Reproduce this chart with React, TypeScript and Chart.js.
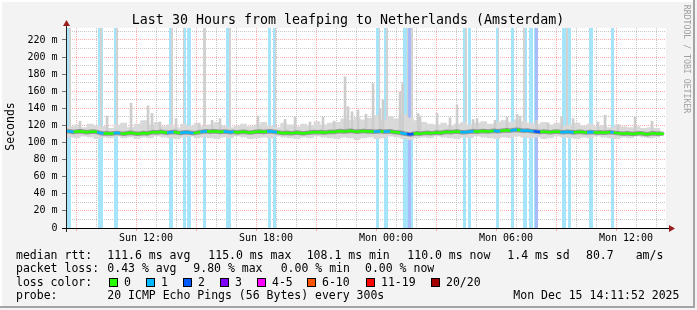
import React, { useEffect, useRef } from 'react';
import { Chart, registerables } from 'chart.js';

Chart.register(...registerables);

// ---- time axis (hours since Sun 00:00) ----
const startHour = 8.198; // Sun 08:11:52
const endHour = 38.198; // Mon 14:11:52
const xTickHours = [12, 18, 24, 30, 36];
const xTickLabels = ['Sun 12:00', 'Sun 18:00', 'Mon 00:00', 'Mon 06:00', 'Mon 12:00'];
const yMax = 234;

// ---- median RTT (ms), 10-minute steps from 08:15 ----
const medianT0 = 8.25;
const medianStep = 1 / 6;
const medianRtt = [
  113.5, 113.0, 112.4, 112.8, 113.2, 112.6, 112.0, 112.5, 112.9, 112.2,
  111.2, 110.6, 110.9, 110.4, 110.8, 111.3,
  110.7, 110.2, 110.9, 111.4, 110.8, 110.3, 110.6, 111.1, 110.5,
  111.6, 112.2, 111.8, 112.5, 112.0, 111.4, 111.9, 112.3, 111.7,
  111.2, 111.8, 112.1, 111.5, 111.0, 111.6, 112.2, 112.8,
  113.1, 112.6, 113.3, 112.9, 112.4, 113.0, 112.7,
  112.1, 112.5, 111.8, 112.3, 112.7, 112.0, 111.6, 112.2, 112.6,
  113.0, 112.4, 112.8, 113.2, 112.6, 112.1,
  111.5, 111.0, 111.4, 110.8, 111.2, 111.7, 111.1, 110.7, 111.3,
  111.8, 112.3, 111.9, 112.4, 111.7, 112.1, 112.6, 112.2,
  112.9, 113.4, 112.8, 113.2, 113.7, 113.1, 112.7, 113.3, 113.6, 112.9, 113.2, 112.6,
  112.9, 113.3, 112.5, 112.9, 113.2, 112.4, 112.0, 111.5,
  110.6, 110.1, 109.4, 110.2, 110.8, 110.4,
  111.0, 111.5, 110.9, 111.3, 111.8, 111.2,
  112.1, 112.6, 112.0, 112.5, 112.9, 112.3, 111.9, 112.4, 112.8,
  113.2, 112.7, 113.1, 113.5, 112.9, 113.3, 113.8, 113.2, 113.6, 114.0,
  114.4, 113.9, 114.6, 115.0, 114.3, 113.8, 114.2, 113.6, 113.1,
  112.7, 112.2, 112.8, 112.4, 111.9, 112.5, 112.9, 112.3,
  112.0, 112.6, 112.2, 111.7, 112.3, 112.7, 112.1, 111.8, 112.4,
  111.9, 111.5, 112.0, 111.4, 111.8, 112.2, 111.6, 111.1,
  110.7, 110.2, 110.8, 110.4, 109.9, 110.5, 111.0, 110.3, 109.8, 110.4, 110.9, 110.3, 110.6, 110.0,
];

// ---- smoke band (ms), 20-minute steps from 08:15 ----
const bandT0 = 8.25;
const bandStep = 1 / 3;
const smokeHi = [
  119, 121, 118, 122, 120, 119, 117, 121, 123, 118,
  122, 126, 121, 124, 119, 121, 118, 122, 120, 123,
  119, 121, 124, 120, 118, 120, 122, 119, 121, 124,
  120, 118, 123, 121, 119, 122, 120, 125, 121, 123,
  124, 128, 126, 130, 127, 129, 132, 127, 131, 128,
  133, 129, 126, 124, 122, 121, 123, 120, 122, 124,
  121, 123, 125, 122, 124, 126, 124, 127, 125, 123,
  122, 124, 121, 123, 120, 121, 123, 120, 122, 119,
  120, 118, 121, 119, 118, 119, 117, 118, 117, 118,
];
const smokeLo = [
  106, 105, 107, 106, 104, 106, 105, 107, 105, 106,
  104, 106, 105, 107, 106, 105, 104, 106, 107, 105,
  106, 105, 104, 106, 105, 107, 106, 104, 105, 106,
  105, 107, 106, 105, 104, 106, 105, 107, 106, 105,
  104, 106, 105, 103, 105, 106, 104, 105, 107, 106,
  104, 103, 105, 106, 105, 107, 106, 105, 104, 106,
  105, 107, 106, 105, 104, 106, 105, 107, 106, 105,
  106, 104, 105, 107, 106, 105, 104, 106, 105, 107,
  106, 105, 104, 106, 105, 107, 106, 105, 106, 105,
];

// ---- individual smoke spikes ----
const spikeHours = [
  8.9, 10.25, 11.45, 12.3, 12.5, 12.9, 13.7, 14.85, 15.5, 15.9,
  17.8, 19.15, 19.65, 20.4, 21.05, 21.6, 22.15, 22.3, 22.5, 22.8,
  23.2, 23.55, 23.9, 24.05, 24.9, 25.03, 25.8, 25.9, 26.75, 27.4,
  27.75, 28.55, 28.75, 29.65, 30.25, 30.75, 30.9, 31.73, 32.3, 32.98,
  33.55, 34.8, 35.15, 35.8, 36.65, 37.5,
];
const spikeTops = [
  125, 131, 146, 143, 134, 124, 128, 122, 126, 128,
  131, 127, 130, 124, 130, 125, 177, 142, 136, 138,
  133, 169, 140, 150, 159, 169, 134, 131, 134, 129,
  144, 127, 128, 126, 130, 133, 131, 126, 123, 130,
  128, 124, 132, 121, 130, 125,
];

// ---- packet loss periods ----
const lossStart = [
  8.2, 9.8, 10.6, 13.35, 14.03, 14.27, 15.07, 16.2, 18.3, 18.55,
  23.7, 24.1, 25.05, 25.31, 25.45, 28.03, 28.29, 29.7, 30.45, 31.05,
  31.35, 31.6, 31.66, 33.02, 33.29, 34.35, 35.45,
];
const lossEnd = [
  8.43, 10.05, 10.8, 13.55, 14.21, 14.45, 15.2, 16.45, 18.45, 18.7,
  23.86, 24.3, 25.31, 25.45, 25.55, 28.21, 28.45, 29.86, 30.6, 31.27,
  31.56, 31.66, 31.82, 33.2, 33.45, 34.56, 35.58,
];
const lossLevel = [
  1, 1, 1, 1, 1, 1, 1, 1, 1, 1,
  1, 1, 1, 2, 1, 1, 1, 1, 1, 1,
  1, 1, 2, 1, 1, 1, 1,
];
const grayStart = [8.33, 9.9, 10.7, 13.46, 14.03, 15.05, 16.33, 18.65, 23.83, 24.2, 25.23, 25.45, 28.16, 29.81, 31.03, 33.2];
const grayEnd = [8.43, 10.01, 10.8, 13.55, 14.11, 15.2, 16.43, 18.7, 23.9, 24.28, 25.31, 25.53, 28.23, 29.86, 31.13, 33.29];
const grayFloor = 118;

// ---- legend ----
const lossColors = ['#26ff00', '#00b8ff', '#0059ff', '#7e00ff', '#ff00ff', '#ff5500', '#ff0000', '#a10000'];
const lossLabels = ['0', '1', '2', '3', '4-5', '6-10', '11-19', '20/20'];
const lossBgColors = ['#ffffff', '#a6e4fa', '#a9bbf8'];
const rttNames = ['avg', 'max', 'min', 'now'];
const rttValues = [111.6, 115.0, 108.1, 110.0];
const rttSd = 1.4;
const amPerS = 80.7;
const lossNames = ['avg', 'max', 'min', 'now'];
const lossPct = [0.43, 9.8, 0.0, 0.0];
const titleText = 'Last 30 Hours from leafping to Netherlands (Amsterdam)';
const probeText = '20 ICMP Echo Pings (56 Bytes) every 300s';
const dateText = 'Mon Dec 15 14:11:52 2025';
const yTitle = 'Seconds';
const watermark = 'RRDTOOL / TOBI OETIKER';

const MONO = '"DejaVu Sans Mono", monospace';
const RED_GRID = 'rgba(255,90,90,0.5)';
const GRAY_GRID = 'rgba(185,185,185,0.8)';
const MEDIAN_INDEX = 3;

function levelBetween(a: number, b: number): number {
  let lvl = 0;
  for (let i = 0; i < lossStart.length; i++) {
    if (lossStart[i] < b && lossEnd[i] > a) lvl = Math.max(lvl, lossLevel[i]);
  }
  return lvl;
}

const medianX = medianRtt.map((_, k) => medianT0 + k * medianStep);

function segColor(c: any): string {
  const a = medianX[c.p0DataIndex];
  const b = medianX[c.p1DataIndex];
  return lossColors[levelBetween(a, b)];
}

const backdrop = {
  id: 'backdrop',
  beforeDraw(chart: any) {
    const { ctx, chartArea: a, width, height } = chart;
    ctx.save();
    ctx.fillStyle = '#f3f3f3';
    ctx.fillRect(0, 0, width, height);
    ctx.fillStyle = '#ffffff';
    ctx.fillRect(0, 0, width - 4, 2);
    ctx.fillRect(0, 0, 2, height - 4);
    ctx.fillStyle = '#a4a4a4';
    ctx.fillRect(width - 4, 0, 2, height - 2);
    ctx.fillRect(0, height - 4, width - 2, 2);
    ctx.fillStyle = '#ffffff';
    ctx.fillRect(a.left, a.top, a.right - a.left, a.bottom - a.top);
    ctx.restore();
  },
};

const lossBars = {
  id: 'lossBars',
  beforeDatasetsDraw(chart: any) {
    const { ctx, chartArea: a, scales } = chart;
    const xs = scales.x;
    const ys = scales.y;
    ctx.save();
    for (let i = 0; i < lossStart.length; i++) {
      const x0 = Math.round(Math.max(a.left, xs.getPixelForValue(lossStart[i])));
      const x1 = Math.round(xs.getPixelForValue(lossEnd[i]));
      ctx.fillStyle = lossBgColors[lossLevel[i]];
      ctx.fillRect(x0, a.top, x1 - x0, a.bottom - a.top);
    }
    const yf = Math.round(ys.getPixelForValue(grayFloor));
    ctx.fillStyle = '#d2d2d2';
    for (let i = 0; i < grayStart.length; i++) {
      const x0 = Math.round(xs.getPixelForValue(grayStart[i]));
      const x1 = Math.round(xs.getPixelForValue(grayEnd[i]));
      ctx.fillRect(x0, a.top, x1 - x0, yf - a.top);
    }
    ctx.restore();
  },
  // dark smoke core right under the median line
  beforeDatasetDraw(chart: any, args: any) {
    if (args.index !== MEDIAN_INDEX) return;
    const { ctx, chartArea: a, scales } = chart;
    ctx.save();
    ctx.beginPath();
    ctx.rect(a.left, a.top, a.right - a.left, a.bottom - a.top);
    ctx.clip();
    ctx.strokeStyle = 'rgba(60,60,60,0.42)';
    ctx.lineWidth = 4.5;
    ctx.lineJoin = 'round';
    ctx.beginPath();
    medianRtt.forEach((v, k) => {
      const px = scales.x.getPixelForValue(medianX[k]);
      const py = scales.y.getPixelForValue(v);
      if (k === 0) ctx.moveTo(px, py);
      else ctx.lineTo(px, py);
    });
    ctx.stroke();
    ctx.restore();
  },
};

const axesAndText = {
  id: 'axesAndText',
  afterDraw(chart: any) {
    const { ctx, chartArea: a, width } = chart;
    ctx.save();
    // axes
    ctx.fillStyle = '#222';
    ctx.fillRect(a.left, a.top - 3, 1, a.bottom - a.top + 7);
    ctx.fillStyle = '#000';
    ctx.fillRect(a.left - 4, a.bottom, a.right - a.left + 9, 1);
    ctx.fillStyle = '#9b1c1c';
    ctx.beginPath();
    ctx.moveTo(a.right + 3, a.bottom - 3);
    ctx.lineTo(a.right + 3, a.bottom + 4);
    ctx.lineTo(a.right + 9, a.bottom + 0.5);
    ctx.closePath();
    ctx.fill();
    ctx.beginPath();
    ctx.moveTo(a.left - 3, a.top - 2);
    ctx.lineTo(a.left + 4, a.top - 2);
    ctx.lineTo(a.left + 0.5, a.top - 8);
    ctx.closePath();
    ctx.fill();

    // title
    ctx.fillStyle = '#000';
    ctx.textAlign = 'center';
    ctx.textBaseline = 'alphabetic';
    ctx.font = `13.3px ${MONO}`;
    ctx.fillText(titleText, 348, 24);

    // y title
    ctx.save();
    ctx.font = `11.5px ${MONO}`;
    ctx.translate(14, 126.5);
    ctx.rotate(-Math.PI / 2);
    ctx.fillText(yTitle, 0, 0);
    ctx.restore();

    // watermark
    ctx.save();
    ctx.font = `8.2px ${MONO}`;
    ctx.fillStyle = '#a0a0a0';
    ctx.translate(width - 12.7, 59);
    ctx.rotate(Math.PI / 2);
    ctx.fillText(watermark, 0, 0);
    ctx.restore();

    // legend
    ctx.textAlign = 'left';
    ctx.font = `11.5px ${MONO}`;
    ctx.fillStyle = '#000';
    const b1 = 258.5, b2 = 272.1, b3 = 285.7, b4 = 299.3;
    ctx.fillText('median rtt:', 16, b1);
    const rttX = [107.3, 208.3, 306.7, 407.3];
    rttValues.forEach((v, i) => ctx.fillText(`${v.toFixed(1)} ms ${rttNames[i]}`, rttX[i], b1));
    ctx.fillText(`${rttSd.toFixed(1)} ms sd`, 507.3, b1);
    ctx.fillText(amPerS.toFixed(1), 586, b1);
    ctx.fillText('am/s', 635.7, b1);

    ctx.fillText('packet loss:', 16, b2);
    const lossX = [107.3, 193.3, 280.7, 365];
    lossPct.forEach((v, i) => ctx.fillText(`${v.toFixed(2)} % ${lossNames[i]}`, lossX[i], b2));

    ctx.fillText('loss color:', 16, b3);
    const boxX = [109, 146, 183, 220, 257, 307, 366, 431];
    lossLabels.forEach((lab, i) => {
      ctx.fillStyle = lossColors[i];
      ctx.fillRect(boxX[i], 278, 9, 9);
      ctx.strokeStyle = '#000';
      ctx.lineWidth = 1;
      ctx.strokeRect(boxX[i] + 0.5, 278.5, 8, 8);
      ctx.fillStyle = '#000';
      ctx.fillText(lab, boxX[i] + 15, b3);
    });

    ctx.fillText('probe:', 16, b4);
    ctx.fillText(probeText, 107.3, b4);
    ctx.fillText(dateText, 513.3, b4);
    ctx.restore();
  },
};

export default function App() {
  const ref = useRef<HTMLCanvasElement>(null);
  useEffect(() => {
    const canvas = ref.current;
    if (!canvas) return;
    const loData = smokeLo.map((v, k) => ({ x: bandT0 + k * bandStep, y: v }));
    const hiData = smokeHi.map((v, k) => ({ x: bandT0 + k * bandStep, y: v }));
    const spikeData = spikeHours.map((h, i) => ({ x: h, y: [112, spikeTops[i]] }));
    const lineData = medianRtt.map((v, k) => ({ x: medianX[k], y: v }));
    const chart = new Chart(canvas, {
      type: 'line',
      data: {
        datasets: [
          {
            type: 'line',
            data: loData,
            borderWidth: 0,
            borderColor: 'rgba(0,0,0,0)',
            backgroundColor: 'rgba(0,0,0,0)',
            pointRadius: 0,
            stepped: true,
            fill: false,
            order: 10,
          },
          {
            type: 'line',
            data: hiData,
            borderWidth: 0,
            borderColor: 'rgba(0,0,0,0)',
            pointRadius: 0,
            stepped: true,
            fill: '-1',
            backgroundColor: '#d9d9d9',
            order: 9,
          },
          {
            type: 'bar',
            data: spikeData,
            backgroundColor: '#cdcdcd',
            borderWidth: 0,
            barThickness: 2,
            grouped: false,
            order: 8,
          },
          {
            type: 'line',
            data: lineData,
            borderColor: lossColors[0],
            backgroundColor: 'rgba(0,0,0,0)',
            borderWidth: 2.5,
            pointRadius: 0,
            fill: false,
            order: 1,
            segment: { borderColor: segColor },
          },
        ] as any,
      },
      options: {
        responsive: false,
        animation: false,
        events: [],
        layout: { padding: { left: 16, right: 31, top: 28, bottom: 62 } },
        plugins: {
          legend: { display: false },
          title: { display: false },
          tooltip: { enabled: false },
          colors: { enabled: false },
        },
        scales: {
          x: {
            type: 'linear',
            min: startHour,
            max: endHour,
            offset: false,
            afterFit: (s: any) => { s.height = 20; },
            border: { display: false, dash: [1, 1] },
            grid: {
              color: (c: any) => (Math.round(c.tick?.value ?? 0) % 3 === 0 ? RED_GRID : GRAY_GRID),
              tickColor: (c: any) => (Math.round(c.tick?.value ?? 0) % 3 === 0 ? RED_GRID : 'rgba(0,0,0,0)'),
              tickLength: 3,
              lineWidth: 1,
            },
            ticks: {
              stepSize: 1,
              includeBounds: false,
              autoSkip: false,
              maxRotation: 0,
              minRotation: 0,
              padding: 1,
              color: '#000',
              font: { family: MONO, size: 10 },
              callback: (v: any) => {
                const i = xTickHours.indexOf(Math.round(Number(v)));
                return i >= 0 ? xTickLabels[i] : '';
              },
            },
          },
          y: {
            type: 'linear',
            min: 0,
            max: yMax,
            afterFit: (s: any) => { s.width = 50; },
            border: { display: false, dash: [1, 1] },
            grid: {
              color: (c: any) => (Math.round(c.tick?.value ?? 0) % 20 === 0 ? RED_GRID : GRAY_GRID),
              tickColor: (c: any) => (Math.round(c.tick?.value ?? 0) % 20 === 0 ? '#777' : 'rgba(0,0,0,0)'),
              tickLength: 4,
              lineWidth: 1,
            },
            ticks: {
              stepSize: 10,
              includeBounds: false,
              autoSkip: false,
              padding: 4.5,
              color: '#000',
              font: { family: MONO, size: 10 },
              callback: (v: any) => {
                const n = Math.round(Number(v));
                if (n % 20 !== 0) return '';
                return n === 0 ? '0' : `${n} m`;
              },
            },
          },
        },
      } as any,
      plugins: [backdrop, lossBars, axesAndText],
    });
    return () => chart.destroy();
  }, []);

  return (
    <div style={{ position: 'fixed', left: 0, top: 0, width: 697, height: 310 }}>
      <canvas ref={ref} width={697} height={310} style={{ display: 'block' }} />
    </div>
  );
}
